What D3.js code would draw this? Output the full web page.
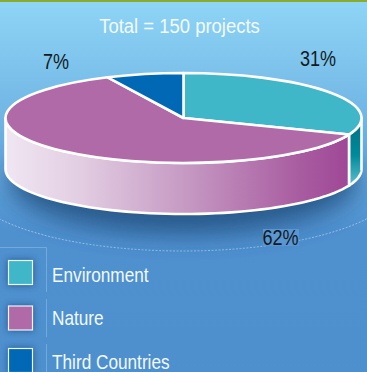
<!DOCTYPE html>
<html>
<head>
<meta charset="utf-8">
<script src="https://cdn.jsdelivr.net/npm/d3@7"></script>
<style>
  html, body { margin: 0; padding: 0; background: #4f90cf; overflow: hidden; }
  svg { display: block; }
  text { font-family: "Liberation Sans", sans-serif; }
</style>
</head>
<body>
<svg id="chart" width="367" height="372"></svg>
<script>
// Share of projects by programme strand
const categories = ["Environment", "Nature", "Third Countries"];
const shares = [31, 62, 7];
const shareLabels = ["31%", "62%", "7%"];
const topColors = ["#3fb7c8", "#b06aa8", "#0068b4"];
const title = "Total = 150 projects";

const width = 367, height = 372;
const cx = 183.5, cy = 118, rx = 178, ry = 45, depth = 51;
const condense = 0.82;

const svg = d3.select("#chart");
const defs = svg.append("defs");

const bg = defs.append("linearGradient").attr("id", "bg").attr("x1", 0).attr("x2", 0).attr("y1", 0).attr("y2", 1);
[[0, "#8fd5f6"], [0.32, "#70b5e4"], [0.62, "#4f90cf"], [1, "#4e8fce"]].forEach(([o, c]) =>
  bg.append("stop").attr("offset", o).attr("stop-color", c));

const wallNature = defs.append("linearGradient").attr("id", "wallNature").attr("gradientUnits", "userSpaceOnUse")
  .attr("x1", cx - rx).attr("x2", 352).attr("y1", 0).attr("y2", 0);
[[0, "#f0e6f2"], [0.22, "#e2cde2"], [0.55, "#c394c0"], [0.85, "#a85ca0"], [1, "#9f4696"]].forEach(([o, c]) =>
  wallNature.append("stop").attr("offset", o).attr("stop-color", c));

const wallEnv = defs.append("linearGradient").attr("id", "wallEnv").attr("x1", 0).attr("x2", 0).attr("y1", 0).attr("y2", 1);
[[0, "#006f7f"], [0.55, "#008a9b"], [1, "#5fc0cc"]].forEach(([o, c]) =>
  wallEnv.append("stop").attr("offset", o).attr("stop-color", c));

const soft = defs.append("filter").attr("id", "soft").attr("x", "-30%").attr("y", "-60%").attr("width", "160%").attr("height", "220%");
soft.append("feGaussianBlur").attr("stdDeviation", 12);
const glow = defs.append("filter").attr("id", "glow").attr("x", "-50%").attr("y", "-50%").attr("width", "200%").attr("height", "200%");
glow.append("feGaussianBlur").attr("stdDeviation", 3);

// Backdrop and top rule
svg.append("rect").attr("width", width).attr("height", height).attr("fill", "url(#bg)");
svg.append("rect").attr("width", width).attr("height", 2).attr("fill", "#8aab2e");

// Halo ring under the pie
const ringY = d3.scaleLinear().domain([-1, 1]).range([184 - 67, 184 + 67]);
const ringX = d3.scaleLinear().domain([-1, 1]).range([183 - 215, 183 + 215]);
const ring = d3.line().x(a => ringX(Math.sin(a))).y(a => ringY(-Math.cos(a)));

svg.append("path")
  .attr("d", ring(d3.range(Math.PI / 2, Math.PI * 1.5 + 0.01, 0.02)))
  .attr("fill", "none").attr("stroke", "#a9cdec").attr("stroke-width", 0.8).attr("stroke-dasharray", "2 1.5");

// Soft shadow cast by the pie
svg.append("ellipse")
  .attr("cx", cx).attr("cy", cy + depth + 12).attr("rx", rx - 4).attr("ry", ry + 8)
  .attr("fill", "#234f7f").attr("opacity", 0.85).attr("filter", "url(#soft)");

// Pie layout: clockwise from twelve o'clock
const pie = d3.pie().sort(null).value(d => d);
const arcs = pie(shares);
const tx = d3.scaleLinear().domain([-1, 1]).range([cx - rx, cx + rx]);
const ty = d3.scaleLinear().domain([-1, 1]).range([cy - ry, cy + ry]);
const rim = a => [tx(Math.sin(a)), ty(-Math.cos(a))];

// Outer wall between two angles on the visible front half
function wallPath(a0, a1) {
  const n = 60;
  const steps = d3.range(n + 1).map(i => a0 + (a1 - a0) * i / n);
  const upper = steps.map(rim);
  const lower = steps.map(rim).reverse().map(([x, y]) => [x, y + depth]);
  return d3.line()(upper.concat(lower)) + "Z";
}

const front = [Math.PI / 2, Math.PI * 1.5];
const wallStyles = ["url(#wallEnv)", "url(#wallNature)", "none"];
arcs.forEach((d, i) => {
  const a0 = Math.max(d.startAngle, front[0]), a1 = Math.min(d.endAngle, front[1]);
  if (a1 <= a0) return;
  svg.append("path").attr("d", wallPath(a0, a1))
    .attr("fill", wallStyles[i]).attr("stroke", "#fff").attr("stroke-width", 2.6).attr("stroke-linejoin", "round");
});

// Top face: a flat pie squashed into an ellipse
const arcGen = d3.arc().innerRadius(0).outerRadius(rx);
svg.append("g")
  .attr("transform", `translate(${cx},${cy}) scale(1,${ry / rx})`)
  .selectAll("path").data(arcs).join("path")
  .attr("d", arcGen)
  .attr("fill", (d, i) => topColors[i])
  .attr("stroke", "#fff").attr("stroke-width", 2.6).attr("stroke-linejoin", "round")
  .attr("vector-effect", "non-scaling-stroke");

// Title and percentage labels
svg.append("text").attr("transform", "translate(179.5,33) scale(0.88,1)").attr("text-anchor", "middle")
  .attr("fill", "#f2fafe").attr("font-size", 21).text(title);

const labelPos = [[318, 66], [280.5, 244.5], [56, 69]];
svg.append("rect").attr("x", 263).attr("y", 229).attr("width", 36).attr("height", 17).attr("fill", "#5a96d2");
svg.selectAll("text.share").data(shareLabels).join("text").attr("class", "share")
  .attr("transform", (d, i) => `translate(${labelPos[i][0]},${labelPos[i][1]}) scale(${condense},1)`)
  .attr("text-anchor", "middle").attr("fill", "#111a22").attr("font-size", 22).text(d => d);

// Legend: rows sit on the panel's own uneven rhythm
const swatchTop = [260.5, 306, 348.5];
const labelBase = [281.5, 324.5, 369];
svg.append("path").attr("d", "M0,247.5H46.5V292M46.5,299V337M46.5,344V372")
  .attr("fill", "none").attr("stroke", "#7fb0de").attr("stroke-width", 0.8);

const rows = svg.selectAll("g.row").data(categories).join("g").attr("class", "row");
rows.append("rect").attr("x", 7.5).attr("y", (d, i) => swatchTop[i] - 1).attr("width", 26).attr("height", 26)
  .attr("fill", "#1f4f80").attr("opacity", 0.8).attr("filter", "url(#glow)");
rows.append("rect").attr("x", 8.5).attr("y", (d, i) => swatchTop[i]).attr("width", 24).attr("height", 24)
  .attr("fill", (d, i) => topColors[i]).attr("stroke", "#eef6fb").attr("stroke-width", 1.2);
rows.append("text").attr("transform", (d, i) => `translate(52,${labelBase[i]}) scale(${condense},1)`)
  .attr("fill", "#f2fafe").attr("font-size", 21).text(d => d);
</script>
</body>
</html>
